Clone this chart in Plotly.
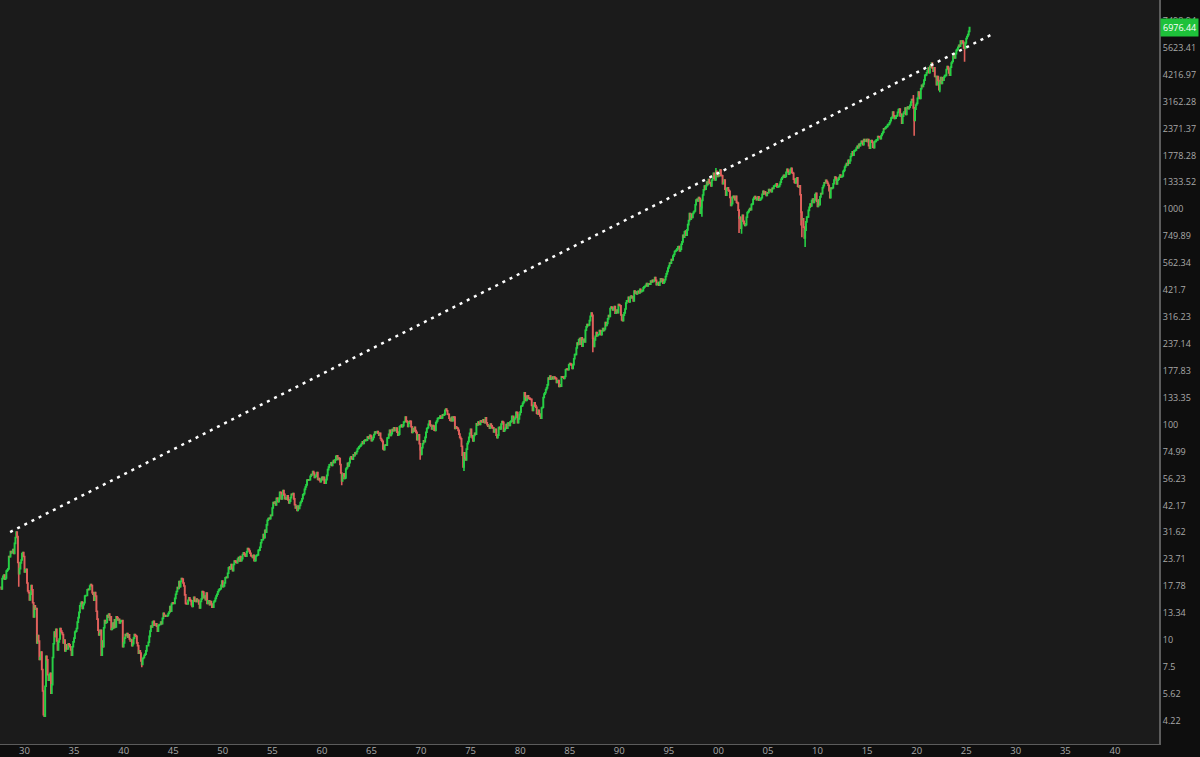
import numpy as np
import pandas as pd
import plotly.graph_objects as go

# S&P 500, monthly closes (log scale)
closes_1920s = [17.57, 17.26, 19.28, 19.75, 20.00, 19.14, 19.40, 20.88, 21.12, 21.39, 24.42, 24.35,
                25.74, 25.45, 25.60, 26.30, 25.20, 28.10, 29.90, 31.70, 30.20, 22.90, 20.30, 21.45]
closes_1930s = [22.80, 23.50, 25.20, 25.45, 24.40, 20.70, 21.20, 21.30, 18.40, 16.90, 16.60, 15.34,
                16.30, 17.90, 17.10, 14.90, 12.80, 14.40, 13.90, 14.00, 9.70, 10.50, 9.90, 8.12,
                8.30, 8.80, 7.30, 5.80, 4.50, 4.43, 6.10, 8.40, 8.10, 6.90, 6.50, 6.89,
                7.00, 5.66, 6.20, 8.30, 9.60, 10.90, 10.40, 11.20, 9.90, 9.00, 9.80, 10.10,
                11.30, 11.00, 10.80, 10.60, 9.70, 10.00, 8.90, 9.50, 9.10, 9.10, 9.60, 9.50,
                9.30, 9.00, 8.50, 9.30, 9.80, 10.20, 10.90, 11.00, 11.30, 12.10, 12.70, 13.43,
                14.40, 14.80, 15.00, 14.00, 14.60, 14.90, 16.00, 16.10, 16.10, 17.10, 17.20, 17.18,
                17.80, 18.10, 17.90, 16.60, 16.30, 15.30, 16.60, 16.00, 13.60, 12.50, 11.10, 10.55,
                10.70, 11.10, 8.50, 9.90, 9.30, 11.40, 12.30, 12.00, 12.10, 13.00, 12.80, 13.21,
                12.40, 12.80, 11.20, 11.30, 12.00, 11.40, 12.40, 11.50, 12.80, 12.70, 12.40, 12.49]
closes_1940s = [12.00, 12.20, 12.30, 12.30, 9.30, 9.70, 10.20, 10.60, 10.50, 10.70, 10.30, 10.58,
                10.10, 9.90, 10.00, 9.40, 9.60, 10.20, 10.60, 10.50, 10.40, 9.70, 9.40, 8.69,
                8.90, 8.70, 8.00, 7.70, 8.20, 8.30, 8.50, 8.60, 8.90, 9.40, 9.40, 9.77,
                10.40, 11.00, 11.60, 11.50, 12.10, 12.20, 11.70, 11.70, 11.90, 11.60, 11.00, 11.67,
                11.80, 11.80, 12.10, 11.90, 12.60, 13.30, 12.90, 13.00, 12.90, 12.90, 13.00, 13.28,
                13.50, 14.30, 13.60, 14.70, 14.90, 14.80, 14.80, 15.60, 16.30, 16.80, 17.50, 17.36,
                18.70, 17.70, 18.70, 19.30, 19.20, 18.40, 17.80, 16.20, 14.80, 14.70, 14.70, 15.30,
                15.70, 15.40, 15.20, 14.60, 14.30, 15.20, 15.80, 15.20, 15.10, 15.50, 15.10, 15.30,
                14.70, 14.10, 15.10, 15.50, 16.80, 16.70, 15.70, 16.00, 15.40, 16.50, 14.80, 15.20,
                15.20, 14.60, 15.10, 14.70, 14.20, 14.20, 15.00, 15.20, 15.60, 16.00, 16.30, 16.76]
closes_1950s = [17.05, 17.22, 17.29, 17.96, 18.78, 17.69, 17.84, 18.42, 19.45, 19.53, 19.51, 20.41,
                21.66, 21.80, 21.40, 22.43, 21.52, 20.96, 22.40, 23.28, 23.26, 22.94, 22.88, 23.77,
                24.14, 23.26, 24.37, 23.32, 23.86, 24.96, 25.40, 25.03, 24.54, 24.52, 25.66, 26.57,
                26.38, 25.90, 25.29, 24.62, 24.54, 24.14, 24.75, 23.32, 23.35, 24.54, 24.76, 24.81,
                26.08, 26.15, 26.94, 28.26, 29.19, 29.21, 30.88, 29.83, 32.31, 31.68, 34.24, 35.98,
                36.63, 36.76, 36.58, 37.96, 37.91, 41.03, 43.52, 43.18, 43.67, 42.34, 45.51, 45.48,
                43.82, 45.34, 48.48, 48.38, 45.20, 46.97, 49.39, 47.51, 45.35, 45.58, 45.08, 46.67,
                44.72, 43.26, 44.11, 45.74, 47.43, 47.37, 47.91, 45.22, 42.42, 41.06, 41.72, 39.99,
                41.70, 40.84, 42.10, 43.44, 44.09, 45.24, 47.19, 47.75, 50.06, 51.33, 52.48, 55.21,
                55.42, 55.41, 55.44, 57.59, 58.68, 58.47, 60.51, 59.60, 56.88, 57.52, 58.28, 59.89]
closes_1960s = [55.61, 56.12, 55.34, 54.37, 55.83, 56.92, 55.51, 56.96, 53.52, 53.39, 55.54, 58.11,
                61.78, 63.44, 65.06, 65.31, 66.56, 64.64, 66.76, 68.07, 66.73, 68.62, 71.32, 71.55,
                68.84, 69.96, 69.55, 65.24, 59.63, 54.75, 58.23, 59.12, 56.27, 56.52, 62.26, 63.10,
                66.20, 64.29, 66.57, 69.80, 70.80, 69.37, 69.13, 72.50, 71.70, 74.01, 73.23, 75.02,
                77.04, 77.80, 78.98, 79.46, 80.37, 81.69, 83.18, 81.83, 84.18, 84.86, 84.42, 84.75,
                87.56, 87.43, 86.16, 89.11, 88.42, 84.12, 85.25, 87.17, 89.96, 92.42, 91.61, 92.43,
                92.88, 91.22, 89.23, 91.06, 86.13, 84.74, 83.60, 77.10, 76.56, 80.20, 80.45, 80.33,
                86.61, 86.78, 90.20, 94.01, 89.08, 90.64, 94.75, 93.64, 96.71, 93.90, 94.00, 96.47,
                92.24, 89.36, 90.20, 97.59, 98.68, 99.58, 97.74, 98.86, 102.67, 103.41, 108.37, 103.86,
                103.01, 98.13, 101.51, 103.69, 103.46, 97.71, 91.83, 95.51, 93.12, 97.24, 93.81, 92.06]
closes_1970s = [85.02, 89.50, 89.63, 81.52, 76.55, 72.72, 78.05, 81.52, 84.21, 83.25, 87.20, 92.15,
                95.88, 96.75, 100.31, 103.95, 99.63, 98.70, 95.58, 99.03, 98.34, 94.23, 93.99, 102.09,
                103.94, 106.57, 107.20, 107.67, 109.53, 107.14, 107.39, 111.09, 110.55, 111.58, 116.67, 118.05,
                116.03, 111.68, 111.52, 106.97, 104.95, 104.26, 108.22, 104.25, 108.43, 108.29, 95.96, 97.55,
                96.57, 96.22, 93.98, 90.31, 87.28, 86.00, 79.31, 72.15, 63.54, 73.90, 69.97, 68.56,
                76.98, 81.59, 83.36, 87.30, 91.15, 95.19, 88.75, 86.88, 83.87, 89.04, 91.24, 90.19,
                100.86, 99.71, 102.77, 101.64, 100.18, 104.28, 103.44, 102.91, 105.24, 102.90, 102.10, 107.46,
                102.03, 99.82, 98.42, 98.44, 96.12, 100.48, 98.85, 96.77, 96.53, 92.34, 94.83, 95.10,
                89.25, 87.04, 89.21, 96.83, 97.24, 95.53, 100.68, 103.29, 102.54, 93.15, 94.70, 96.11,
                99.93, 96.28, 101.59, 101.76, 99.08, 102.91, 103.81, 109.32, 109.32, 101.82, 106.16, 107.94]
closes_1980s = [114.16, 113.66, 102.09, 106.29, 111.24, 114.24, 121.67, 122.38, 125.46, 127.47, 140.52, 135.76,
                129.55, 131.27, 136.00, 132.81, 132.59, 131.21, 130.92, 122.79, 116.18, 121.89, 126.35, 122.55,
                120.40, 113.11, 111.96, 116.44, 111.88, 109.61, 107.09, 119.51, 120.42, 133.71, 138.54, 140.64,
                145.30, 148.06, 152.96, 164.42, 162.39, 168.11, 162.56, 164.40, 166.07, 163.55, 166.40, 164.93,
                163.41, 157.06, 159.18, 160.05, 150.55, 153.18, 150.66, 166.68, 166.10, 166.09, 163.58, 167.24,
                179.63, 181.18, 180.66, 179.83, 189.55, 191.85, 190.92, 188.63, 182.08, 189.82, 202.17, 211.28,
                211.78, 226.92, 238.90, 235.52, 247.35, 250.84, 236.12, 252.93, 231.32, 243.98, 249.22, 242.17,
                274.08, 284.20, 291.70, 288.36, 290.10, 304.00, 318.66, 329.80, 321.83, 251.79, 230.30, 247.08,
                257.07, 267.82, 258.89, 261.33, 262.16, 273.50, 272.02, 261.52, 271.91, 278.97, 273.70, 277.72,
                297.47, 288.86, 294.87, 309.64, 320.52, 317.98, 346.08, 351.45, 349.15, 340.36, 345.99, 353.40]
closes_1990s = [329.08, 331.89, 339.94, 330.80, 361.23, 358.02, 356.15, 322.56, 306.05, 304.00, 322.22, 330.22,
                343.93, 367.07, 375.22, 375.35, 389.83, 371.16, 387.81, 395.43, 387.86, 392.45, 375.22, 417.09,
                408.79, 412.70, 403.69, 414.95, 415.35, 408.14, 424.21, 414.03, 417.80, 418.68, 431.35, 435.71,
                438.78, 443.38, 451.67, 440.19, 450.19, 450.53, 448.13, 463.56, 458.93, 467.83, 461.79, 466.45,
                481.61, 467.14, 445.77, 450.91, 456.50, 444.27, 458.26, 475.49, 462.69, 472.35, 453.69, 459.27,
                470.42, 487.39, 500.71, 514.71, 533.40, 544.75, 562.06, 561.88, 584.41, 581.50, 605.37, 615.93,
                636.02, 640.43, 645.50, 654.17, 669.12, 670.63, 639.95, 651.99, 687.31, 705.27, 757.02, 740.74,
                786.16, 790.82, 757.12, 801.34, 848.28, 885.14, 954.29, 899.47, 947.28, 914.62, 955.40, 970.43,
                980.28, 1049.34, 1101.75, 1111.75, 1090.82, 1133.84, 1120.67, 957.28, 1017.01, 1098.67, 1163.63, 1229.23,
                1279.64, 1238.33, 1286.37, 1335.18, 1301.84, 1372.71, 1328.72, 1320.41, 1282.71, 1362.93, 1388.91, 1469.25]
closes_2000s = [1394.46, 1366.42, 1498.58, 1452.43, 1420.60, 1454.60, 1430.83, 1517.68, 1436.51, 1429.40, 1314.95, 1320.28,
                1366.01, 1239.94, 1160.33, 1249.46, 1255.82, 1224.42, 1211.23, 1133.58, 1040.94, 1059.78, 1139.45, 1148.08,
                1130.20, 1106.73, 1147.39, 1076.92, 1067.14, 989.82, 911.62, 916.07, 815.28, 885.76, 936.31, 879.82,
                855.70, 841.15, 848.18, 916.92, 963.59, 974.50, 990.31, 1008.01, 995.97, 1050.71, 1058.20, 1111.92,
                1131.13, 1144.94, 1126.21, 1107.30, 1120.68, 1140.84, 1101.72, 1104.24, 1114.58, 1130.20, 1173.82, 1211.92,
                1181.27, 1203.60, 1180.59, 1156.85, 1191.50, 1191.33, 1234.18, 1220.33, 1228.81, 1207.01, 1249.48, 1248.29,
                1280.08, 1280.66, 1294.87, 1310.61, 1270.09, 1270.20, 1276.66, 1303.82, 1335.85, 1377.94, 1400.63, 1418.30,
                1438.24, 1406.82, 1420.86, 1482.37, 1530.62, 1503.35, 1455.27, 1473.99, 1526.75, 1549.38, 1481.14, 1468.36,
                1378.55, 1330.63, 1322.70, 1385.59, 1400.38, 1280.00, 1267.38, 1282.83, 1166.36, 968.75, 896.24, 903.25,
                825.88, 735.09, 797.87, 872.81, 919.14, 919.32, 987.48, 1020.62, 1057.08, 1036.19, 1095.63, 1115.10]
closes_2010s = [1073.87, 1104.49, 1169.43, 1186.69, 1089.41, 1030.71, 1101.60, 1049.33, 1141.20, 1183.26, 1180.55, 1257.64,
                1286.12, 1327.22, 1325.83, 1363.61, 1345.20, 1320.64, 1292.28, 1218.89, 1131.42, 1253.30, 1246.96, 1257.60,
                1312.41, 1365.68, 1408.47, 1397.91, 1310.33, 1362.16, 1379.32, 1406.58, 1440.67, 1412.16, 1416.18, 1426.19,
                1498.11, 1514.68, 1569.19, 1597.57, 1630.74, 1606.28, 1685.73, 1632.97, 1681.55, 1756.54, 1805.81, 1848.36,
                1782.59, 1859.45, 1872.34, 1883.95, 1923.57, 1960.23, 1930.67, 2003.37, 1972.29, 2018.05, 2067.56, 2058.90,
                1994.99, 2104.50, 2067.89, 2085.51, 2107.39, 2063.11, 2103.84, 1972.18, 1920.03, 2079.36, 2080.41, 2043.94,
                1940.24, 1932.23, 2059.74, 2065.30, 2096.95, 2098.86, 2173.60, 2170.95, 2168.27, 2126.15, 2198.81, 2238.83,
                2278.87, 2363.64, 2362.72, 2384.20, 2411.80, 2423.41, 2470.30, 2471.65, 2519.36, 2575.26, 2647.58, 2673.61,
                2823.81, 2713.83, 2640.87, 2648.05, 2705.27, 2718.37, 2816.29, 2901.52, 2913.98, 2711.74, 2760.17, 2506.85,
                2704.10, 2784.49, 2834.40, 2945.83, 2752.06, 2941.76, 2980.38, 2926.46, 2976.74, 3037.56, 3140.98, 3230.78]
closes_2020s = [3225.52, 2954.22, 2584.59, 2912.43, 3044.31, 3100.29, 3271.12, 3500.31, 3363.00, 3269.96, 3621.63, 3756.07,
                3714.24, 3811.15, 3972.89, 4181.17, 4204.11, 4297.50, 4395.26, 4522.68, 4307.54, 4605.38, 4567.00, 4766.18,
                4515.55, 4373.94, 4530.41, 4131.93, 4132.15, 3785.38, 4130.29, 3955.00, 3585.62, 3871.98, 4080.11, 3839.50,
                4076.60, 3970.15, 4109.31, 4169.48, 4179.83, 4450.38, 4588.96, 4507.66, 4288.05, 4193.80, 4567.80, 4769.83,
                4845.65, 5096.27, 5254.35, 5035.69, 5277.51, 5460.48, 5522.30, 5648.40, 5762.48, 5705.45, 6032.38, 5881.63,
                6040.53, 5954.50, 5611.85, 5569.06, 5911.69, 6204.95, 6339.39, 6460.26, 6688.46, 6976.44]

# intramonth extremes (wicks) for the big spikes
wick_low_months = ['1929-11', '1932-06', '1942-04', '1962-06', '1970-05', '1974-10', '1987-10',
                   '1998-10', '2002-07', '2002-10', '2008-10', '2008-11', '2009-03', '2020-03',
                   '2022-10', '2025-04']
wick_low_values = [17.66, 4.40, 7.47, 52.32, 68.61, 60.96, 216.46,
                   923.32, 775.68, 768.63, 839.80, 741.02, 666.79, 2191.86,
                   3491.58, 4835.04]
wick_high_months = ['1929-09', '2000-03', '2020-02']
wick_high_values = [31.92, 1552.87, 3393.52]

# dotted trend line through the 1929 and 2000 tops
trend_dates = ['1929-01-01', '2028-02-15']
trend_values = [31.7, 6507.0]

# right axis ticks: 10^(k/8)
tick_vals = [10 ** (k / 8) for k in range(5, 32)]
tick_text = ['4.22', '5.62', '7.5', '10', '13.34', '17.78', '23.71', '31.62', '42.17', '56.23',
             '74.99', '100', '133.35', '177.83', '237.14', '316.23', '421.7', '562.34', '749.89',
             '1000', '1333.52', '1778.28', '2371.37', '3162.28', '4216.97', '5623.41', '7498.94']
x_tick_years = list(range(1930, 2045, 5))
x_tick_text = [str(y)[2:] for y in x_tick_years]

closes = (closes_1920s + closes_1930s + closes_1940s + closes_1950s + closes_1960s +
          closes_1970s + closes_1980s + closes_1990s + closes_2000s + closes_2010s + closes_2020s)

df = pd.DataFrame({'close': closes})
df['date'] = pd.date_range('1928-01-01', periods=len(df), freq='MS') + pd.Timedelta(days=14)
df['month'] = df['date'].dt.strftime('%Y-%m')
df['open'] = df['close'].shift(1).fillna(df['close'].iloc[0])
df['high'] = df[['open', 'close']].max(axis=1)
df['low'] = df[['open', 'close']].min(axis=1)
for m, v in zip(wick_low_months, wick_low_values):
    df.loc[df['month'] == m, 'low'] = np.minimum(df.loc[df['month'] == m, 'low'], v)
for m, v in zip(wick_high_months, wick_high_values):
    df.loc[df['month'] == m, 'high'] = np.maximum(df.loc[df['month'] == m, 'high'], v)

green = '#27cf45'
red = '#e0605c'

fig = go.Figure()
fig.add_trace(go.Candlestick(
    x=df['date'], open=df['open'], high=df['high'], low=df['low'], close=df['close'],
    increasing=dict(line=dict(color=green, width=1.6), fillcolor=green),
    decreasing=dict(line=dict(color=red, width=1.6), fillcolor=red),
    whiskerwidth=0, hoverinfo='skip'))
fig.add_trace(go.Scatter(
    x=trend_dates, y=trend_values, mode='lines',
    line=dict(color='white', width=2.5, dash='3px,5px'), hoverinfo='skip'))

last = closes[-1]
fig.add_annotation(x=1.0, xref='paper', xanchor='left', xshift=1,
                   y=np.log10(last), yref='y', yanchor='middle',
                   text=f'{last:.2f}', showarrow=False,
                   font=dict(color='white', size=9, family='Open Sans'),
                   bgcolor='#1ec13a', borderpad=2)

fig.update_layout(
    width=1200, height=757,
    margin=dict(l=0, r=41, t=0, b=13),
    paper_bgcolor='#0e0e0e', plot_bgcolor='#1b1b1b',
    showlegend=False,
    font=dict(family='Open Sans', color='#a9a9a9', size=9),
    xaxis=dict(
        type='date', range=['1927-12-25', '2044-11-25'],
        rangeslider=dict(visible=False),
        tickmode='array', tickvals=[f'{y}-06-15' for y in x_tick_years], ticktext=x_tick_text,
        showgrid=False, zeroline=False, ticks='', ticklabelstandoff=-2,
        showline=True, linecolor='#5c5c5c', linewidth=1,
        tickfont=dict(size=9.5, color='#a9a9a9'), automargin=False),
    yaxis=dict(
        type='log', side='right', range=[0.5172, 3.9712],
        tickmode='array', tickvals=tick_vals, ticktext=tick_text,
        showgrid=False, zeroline=False, ticks='',
        showline=True, linecolor='#5c5c5c', linewidth=2,
        tickfont=dict(size=9, color='#a9a9a9'), automargin=False),
)

# page has a default body margin; drop it so the chart sits at the window corner
fig.write_html('out.html', config={'displayModeBar': False},
               post_script="document.body.style.margin='0';")
